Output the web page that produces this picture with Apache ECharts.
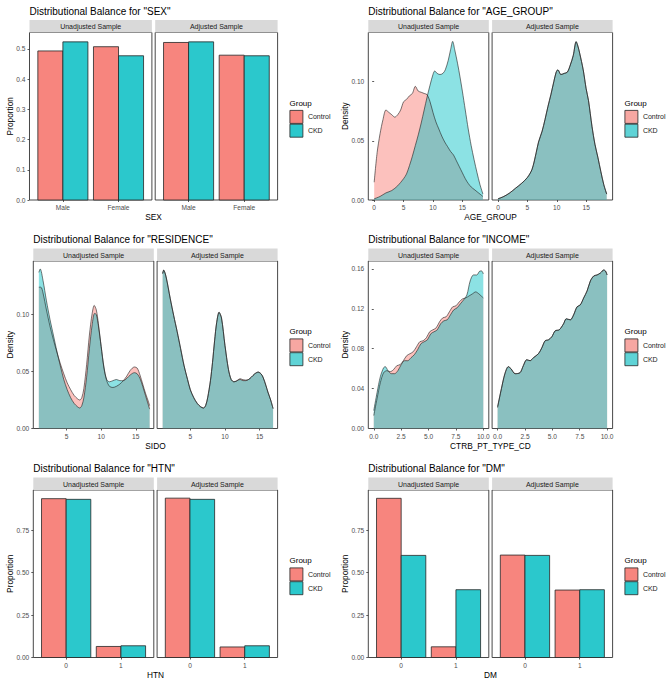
<!DOCTYPE html>
<html>
<head>
<meta charset="utf-8">
<script src="https://cdn.jsdelivr.net/npm/echarts@6/dist/echarts.min.js"></script>
<style>
html,body{margin:0;padding:0;background:#fff;}
#chart{width:669px;height:681px;}
</style>
</head>
<body>
<div id="chart"></div>
<script>
// ---------------- DATA ----------------
const facetNames = ['Unadjusted Sample', 'Adjusted Sample'];
const groupNames = ['Control', 'CKD'];

// SEX (proportions)
const sexCategories = ['Male', 'Female'];
const sexUnadjControl = [0.493, 0.507];
const sexUnadjCKD = [0.523, 0.477];
const sexAdjControl = [0.521, 0.479];
const sexAdjCKD = [0.523, 0.477];
const sexYTicks = [0, 0.1, 0.2, 0.3, 0.4, 0.5];

// HTN (proportions)
const htnCategories = ['0', '1'];
const htnUnadjControl = [0.935, 0.065];
const htnUnadjCKD = [0.931, 0.069];
const htnAdjControl = [0.938, 0.062];
const htnAdjCKD = [0.931, 0.069];

// DM (proportions)
const dmCategories = ['0', '1'];
const dmUnadjControl = [0.937, 0.063];
const dmUnadjCKD = [0.601, 0.399];
const dmAdjControl = [0.603, 0.397];
const dmAdjCKD = [0.601, 0.399];
const binaryYTicks = [0, 0.25, 0.5, 0.75];

// AGE_GROUP densities [x, density]
const ageUnadjControl = [[0,0.015],[0.5,0.040],[1,0.056],[1.5,0.068],[2,0.076],[2.5,0.074],[3,0.072],[3.5,0.070],[4,0.072],[4.5,0.076],[5,0.083],[5.5,0.085],[6,0.088],[6.5,0.090],[7,0.096],[7.5,0.092],[8,0.091],[8.5,0.090],[9,0.089],[9.5,0.083],[10,0.074],[10.5,0.066],[11,0.060],[11.5,0.054],[12,0.049],[12.5,0.045],[13,0.041],[13.5,0.038],[14,0.033],[14.5,0.028],[15,0.023],[15.5,0.018],[16,0.014],[16.5,0.011],[17,0.009],[17.5,0.007],[18,0.005],[18.5,0.003]];
const ageUnadjCKD = [[0,0.001],[1,0.003],[2,0.006],[3,0.008],[4,0.012],[5,0.018],[5.5,0.022],[6,0.029],[6.5,0.037],[7,0.046],[7.5,0.055],[8,0.065],[8.5,0.076],[9,0.087],[9.5,0.097],[10,0.106],[10.3,0.109],[10.7,0.107],[11.2,0.106],[11.7,0.107],[12.1,0.110],[12.6,0.118],[13,0.127],[13.35,0.134],[13.7,0.127],[14.2,0.115],[14.6,0.104],[15,0.092],[15.5,0.076],[16,0.060],[16.5,0.046],[17,0.034],[17.5,0.023],[18,0.013],[18.5,0.005]];
const ageAdjControl = [[0,0.001],[1,0.003],[2,0.006],[3,0.010],[4,0.014],[5,0.019],[5.8,0.026],[6.5,0.040],[6.9,0.049],[7.5,0.058],[8,0.068],[8.5,0.079],[9,0.089],[9.5,0.100],[9.9,0.108],[10.2,0.110],[10.7,0.106],[11.3,0.107],[11.8,0.108],[12.3,0.114],[12.8,0.122],[13.3,0.1335],[13.6,0.130],[13.9,0.124],[14.5,0.110],[15,0.094],[15.4,0.084],[16,0.062],[16.5,0.047],[17,0.036],[17.5,0.024],[18,0.013],[18.5,0.005]];
const ageAdjCKD = [[0,0.001],[1,0.003],[2,0.006],[3,0.010],[4,0.014],[5,0.019],[5.8,0.026],[6.5,0.040],[6.9,0.049],[7.5,0.058],[8,0.068],[8.5,0.079],[9,0.089],[9.5,0.100],[9.9,0.108],[10.2,0.110],[10.7,0.106],[11.3,0.107],[11.8,0.108],[12.3,0.114],[12.8,0.122],[13.3,0.134],[13.6,0.130],[13.9,0.124],[14.5,0.110],[15,0.094],[15.4,0.084],[16,0.062],[16.5,0.047],[17,0.036],[17.5,0.024],[18,0.013],[18.5,0.005]];
const ageXTicks = [0, 5, 10, 15];
const ageYTicks = [0, 0.05, 0.10];

// RESIDENCE (SIDO) densities
const resUnadjControl = [[1,0.124],[1.3,0.124],[1.6,0.119],[2.1,0.104],[2.6,0.090],[3.1,0.078],[3.6,0.067],[4.1,0.057],[4.6,0.048],[5.1,0.040],[5.6,0.034],[6.1,0.029],[6.6,0.026],[6.9,0.025],[7.2,0.027],[7.5,0.035],[7.9,0.056],[8.3,0.082],[8.7,0.101],[9.0,0.108],[9.3,0.104],[9.6,0.092],[10.0,0.072],[10.4,0.053],[10.8,0.042],[11.2,0.037],[11.7,0.036],[12.2,0.037],[12.7,0.039],[13.2,0.042],[13.7,0.046],[14.2,0.051],[14.8,0.054],[15.2,0.053],[15.6,0.047],[16.0,0.039],[16.4,0.031],[16.8,0.024],[17.0,0.020]];
const resUnadjCKD = [[1,0.137],[1.2,0.140],[1.6,0.130],[2.1,0.112],[2.6,0.096],[3.1,0.082],[3.6,0.068],[4.1,0.055],[4.6,0.043],[5.1,0.034],[5.6,0.027],[6.1,0.022],[6.6,0.019],[6.9,0.018],[7.2,0.020],[7.5,0.027],[7.9,0.045],[8.3,0.070],[8.7,0.091],[9.05,0.101],[9.3,0.100],[9.6,0.090],[10.0,0.072],[10.4,0.054],[10.8,0.043],[11.2,0.041],[11.7,0.042],[12.2,0.043],[12.7,0.042],[13.2,0.042],[13.7,0.044],[14.2,0.047],[14.8,0.049],[15.2,0.048],[15.6,0.044],[16.0,0.037],[16.4,0.029],[16.8,0.021],[17.0,0.017]];
const resAdjControl = [[1,0.136],[1.15,0.139],[1.5,0.133],[2.1,0.114],[2.6,0.099],[3.1,0.085],[3.6,0.070],[4.1,0.055],[4.6,0.043],[5.0,0.034],[5.5,0.027],[6.0,0.022],[6.5,0.019],[6.9,0.018],[7.2,0.020],[7.5,0.027],[7.9,0.042],[8.2,0.058],[8.5,0.077],[8.8,0.093],[9.15,0.102],[9.5,0.097],[10.0,0.073],[10.5,0.052],[10.9,0.043],[11.3,0.041],[11.6,0.0415],[12.2,0.0437],[12.6,0.0428],[13.0,0.0425],[13.4,0.043],[13.8,0.045],[14.3,0.048],[14.8,0.0495],[15.2,0.048],[15.5,0.045],[15.9,0.038],[16.2,0.032],[16.6,0.025],[16.95,0.0175]];
const resAdjCKD = [[1,0.136],[1.15,0.139],[1.5,0.133],[2.1,0.114],[2.6,0.099],[3.1,0.085],[3.6,0.070],[4.1,0.055],[4.6,0.043],[5.0,0.034],[5.5,0.027],[6.0,0.022],[6.5,0.019],[6.9,0.018],[7.2,0.020],[7.5,0.027],[7.9,0.042],[8.2,0.058],[8.5,0.077],[8.8,0.093],[9.15,0.102],[9.5,0.097],[10.0,0.073],[10.5,0.052],[10.9,0.043],[11.3,0.041],[11.6,0.0415],[12.2,0.043],[12.6,0.042],[13.0,0.042],[13.4,0.043],[13.8,0.045],[14.3,0.048],[14.8,0.0495],[15.2,0.048],[15.5,0.045],[15.9,0.038],[16.2,0.032],[16.6,0.025],[16.95,0.0175]];
const sidoXTicks = [5, 10, 15];
const sidoYTicks = [0, 0.05, 0.10];

// INCOME (CTRB_PT_TYPE_CD) densities
const incUnadjControl = [[0,0.013],[0.3,0.030],[0.6,0.046],[0.9,0.056],[1.2,0.058],[1.5,0.057],[1.8,0.059],[2.1,0.063],[2.4,0.064],[2.7,0.068],[3.0,0.073],[3.3,0.075],[3.6,0.077],[3.9,0.082],[4.2,0.087],[4.5,0.088],[4.8,0.091],[5.1,0.097],[5.4,0.099],[5.7,0.101],[6.0,0.107],[6.3,0.111],[6.6,0.112],[6.9,0.117],[7.2,0.122],[7.5,0.123],[7.8,0.127],[8.1,0.130],[8.4,0.131],[8.7,0.133],[9.0,0.135],[9.3,0.137],[9.6,0.135],[9.8,0.133],[10.0,0.131]];
const incUnadjCKD = [[0,0.018],[0.3,0.036],[0.6,0.052],[0.9,0.061],[1.05,0.062],[1.3,0.058],[1.6,0.055],[1.9,0.055],[2.2,0.058],[2.5,0.064],[2.8,0.068],[3.1,0.068],[3.4,0.071],[3.7,0.074],[4.0,0.079],[4.3,0.085],[4.6,0.087],[4.9,0.089],[5.2,0.095],[5.5,0.097],[5.8,0.099],[6.1,0.105],[6.4,0.108],[6.7,0.109],[7.0,0.114],[7.3,0.119],[7.6,0.121],[7.9,0.125],[8.2,0.129],[8.5,0.134],[8.8,0.148],[9.1,0.154],[9.4,0.154],[9.7,0.158],[9.85,0.158],[10.0,0.155]];
const incAdjControl = [[0,0.021],[0.35,0.040],[0.67,0.055],[0.98,0.062],[1.22,0.060],[1.6,0.055],[2.05,0.056],[2.35,0.063],[2.66,0.069],[2.97,0.068],[3.27,0.071],[3.73,0.075],[4.04,0.081],[4.34,0.088],[4.65,0.089],[4.95,0.092],[5.26,0.098],[5.63,0.099],[6.02,0.105],[6.27,0.110],[6.64,0.109],[6.94,0.114],[7.25,0.122],[7.55,0.124],[7.86,0.131],[8.17,0.138],[8.47,0.148],[8.78,0.153],[9.08,0.154],[9.39,0.156],[9.69,0.159],[9.85,0.158],[10.0,0.154]];
const incAdjCKD = [[0,0.022],[0.35,0.040],[0.67,0.055],[0.98,0.062],[1.22,0.060],[1.6,0.055],[2.05,0.056],[2.35,0.063],[2.66,0.069],[2.97,0.068],[3.27,0.071],[3.73,0.075],[4.04,0.081],[4.34,0.088],[4.65,0.089],[4.95,0.092],[5.26,0.098],[5.63,0.099],[6.02,0.105],[6.27,0.110],[6.64,0.109],[6.94,0.114],[7.25,0.122],[7.55,0.124],[7.86,0.131],[8.17,0.138],[8.47,0.148],[8.78,0.153],[9.08,0.154],[9.39,0.156],[9.69,0.159],[9.85,0.158],[10.0,0.154]];
const incomeXTicks = [0, 2.5, 5, 7.5, 10];
const incomeYTicks = [0, 0.04, 0.08, 0.12, 0.16];

// ---------------- STYLE / LAYOUT ----------------
const FONT = '"Liberation Sans", Arial, Helvetica, sans-serif';
const COLORS = {
  barControl: '#F7857E', barCKD: '#2BC8CC',
  densControl: '#F8766D', densCKD: '#00BFC4',
  keyDensControl: '#F7A7A2', keyDensCKD: '#5FD3D6',
  outline: '#262626', border: '#333333', strip: '#D9D9D9',
  tick: '#4D4D4D', text: '#1A1A1A'
};
const ROW_TOPS = [20, 248.5, 477.5];
const STRIP_H = 12.5;
const PLOT_H = 167.5;
const FACET_GAP = 3.3;
const DODGE = 0.45;
const DENS_ALPHA = 0.45;

const panels = [
  { title: 'Distributional Balance for "SEX"', kind: 'bar', cats: sexCategories,
    data: [[sexUnadjControl, sexUnadjCKD], [sexAdjControl, sexAdjCKD]],
    yMax: 0.554, yTicks: sexYTicks, yDigits: 1, xTitle: 'SEX', yTitle: 'Proportion',
    row: 0, left: 29.5, width: 122.4, legendX: 289.5, yTitleX: 10 },
  { title: 'Distributional Balance for "AGE_GROUP"', kind: 'density',
    data: [[ageUnadjControl, ageUnadjCKD], [ageAdjControl, ageAdjCKD]],
    xMin: -1, xMax: 19.5, xTicks: ageXTicks, xDigits: 0,
    yMax: 0.1415, yTicks: ageYTicks, yDigits: 2, xTitle: 'AGE_GROUP', yTitle: 'Density',
    row: 0, left: 368.3, width: 120.5, legendX: 624.5, yTitleX: 345 },
  { title: 'Distributional Balance for "RESIDENCE"', kind: 'density',
    data: [[resUnadjControl, resUnadjCKD], [resAdjControl, resAdjCKD]],
    xMin: 0.2, xMax: 17.6, xTicks: sidoXTicks, xDigits: 0,
    yMax: 0.147, yTicks: sidoYTicks, yDigits: 2, xTitle: 'SIDO', yTitle: 'Density',
    row: 1, left: 33.3, width: 120.5, legendX: 289.5, yTitleX: 10 },
  { title: 'Distributional Balance for "INCOME"', kind: 'density',
    data: [[incUnadjControl, incUnadjCKD], [incAdjControl, incAdjCKD]],
    xMin: -0.5, xMax: 10.5, xTicks: incomeXTicks, xDigits: 1,
    yMax: 0.168, yTicks: incomeYTicks, yDigits: 2, xTitle: 'CTRB_PT_TYPE_CD', yTitle: 'Density',
    row: 1, left: 368.3, width: 120.5, legendX: 624.5, yTitleX: 345 },
  { title: 'Distributional Balance for "HTN"', kind: 'bar', cats: htnCategories,
    data: [[htnUnadjControl, htnUnadjCKD], [htnAdjControl, htnAdjCKD]],
    yMax: 0.986, yTicks: binaryYTicks, yDigits: 2, xTitle: 'HTN', yTitle: 'Proportion',
    row: 2, left: 33.3, width: 120.5, legendX: 289.5, yTitleX: 10 },
  { title: 'Distributional Balance for "DM"', kind: 'bar', cats: dmCategories,
    data: [[dmUnadjControl, dmUnadjCKD], [dmAdjControl, dmAdjCKD]],
    yMax: 0.986, yTicks: binaryYTicks, yDigits: 2, xTitle: 'DM', yTitle: 'Proportion',
    row: 2, left: 368.3, width: 120.5, legendX: 624.5, yTitleX: 345 }
];

// ---------------- BUILD ----------------
function txt(text, x, y, size, color, align, rotation) {
  return {
    type: 'text', x: x, y: y, rotation: rotation || 0, silent: true, z: 10,
    style: {
      text: text, font: size + 'px ' + FONT, fill: color,
      align: align, textAlign: align, verticalAlign: 'middle', textVerticalAlign: 'middle'
    }
  };
}

function barRenderer(side, fill) {
  return function (params, api) {
    const x = api.value(0), y = api.value(1);
    const x0 = side < 0 ? x - DODGE : x;
    const p0 = api.coord([x0, y]);
    const p1 = api.coord([x0 + DODGE, 0]);
    return {
      type: 'rect',
      shape: { x: p0[0], y: p0[1], width: p1[0] - p0[0], height: p1[1] - p0[1] },
      style: { fill: fill, stroke: COLORS.outline, lineWidth: 0.8 }
    };
  };
}

const option = {
  animation: false,
  backgroundColor: '#ffffff',
  grid: [], xAxis: [], yAxis: [], series: [], legend: [],
  graphic: { elements: [] }
};
const G = option.graphic.elements;

panels.forEach(function (p) {
  const stripTop = ROW_TOPS[p.row];
  const plotTop = stripTop + STRIP_H;
  const plotBottom = plotTop + PLOT_H;
  const totalRight = p.left + 2 * p.width + FACET_GAP;

  G.push(txt(p.title, p.left, stripTop - 9, 10, '#000000', 'left'));
  G.push(txt(p.yTitle, p.yTitleX, plotTop + PLOT_H / 2, 8.3, '#000000', 'center', Math.PI / 2));
  G.push(txt(p.xTitle, (p.left + totalRight) / 2, plotBottom + 17, 8.3, '#000000', 'center'));
  G.push(txt('Group', p.legendX, plotTop + 70.5, 8, '#000000', 'left'));

  const isBar = p.kind === 'bar';
  option.legend.push({
    orient: 'vertical', left: p.legendX, top: plotTop + 77.5, padding: 0,
    itemWidth: 13, itemHeight: 13, itemGap: 0, icon: 'rect', selectedMode: false,
    textStyle: { fontSize: 7, color: '#1A1A1A', fontFamily: FONT },
    data: groupNames.map(function (g, i) {
      const c = isBar ? (i === 0 ? COLORS.barControl : COLORS.barCKD)
                      : (i === 0 ? COLORS.keyDensControl : COLORS.keyDensCKD);
      return { name: g, icon: 'rect',
        textStyle: { color: '#1A1A1A', fontSize: 7, fontFamily: FONT },
        itemStyle: { color: c, borderColor: COLORS.outline, borderWidth: 0.8 } };
    })
  });

  for (let f = 0; f < 2; f++) {
    const gx = p.left + f * (p.width + FACET_GAP);
    const gi = option.grid.length;
    option.grid.push({
      left: gx, top: plotTop, width: p.width, height: PLOT_H,
      show: true, borderColor: COLORS.border, borderWidth: 0.9, backgroundColor: '#ffffff'
    });
    G.push({ type: 'rect', silent: true, z: 5,
      shape: { x: gx, y: stripTop, width: p.width, height: STRIP_H },
      style: { fill: COLORS.strip } });
    G.push(txt(facetNames[f], gx + p.width / 2, stripTop + STRIP_H / 2 + 0.3, 7, COLORS.text, 'center'));

    const xTicks = isBar ? p.cats.map(function (c, i) { return i + 1; }) : p.xTicks;
    option.xAxis.push({
      gridIndex: gi, type: 'value',
      min: isBar ? 0.4 : p.xMin, max: isBar ? p.cats.length + 0.6 : p.xMax,
      axisLine: { show: false }, splitLine: { show: false },
      axisTick: { show: true, customValues: xTicks, length: 2, lineStyle: { color: COLORS.border, width: 0.8 } },
      axisLabel: {
        customValues: xTicks, margin: 4, fontSize: 6.6, color: COLORS.tick, fontFamily: FONT,
        formatter: isBar ? (function (cats) { return function (v) { return cats[Math.round(v) - 1]; }; })(p.cats)
                         : (function (d) { return function (v) { return v.toFixed(d); }; })(p.xDigits)
      }
    });
    option.yAxis.push({
      gridIndex: gi, type: 'value', min: 0, max: p.yMax,
      axisLine: { show: false }, splitLine: { show: false },
      axisTick: { show: f === 0, customValues: p.yTicks, length: 2, lineStyle: { color: COLORS.border, width: 0.8 } },
      axisLabel: {
        show: f === 0, customValues: p.yTicks, margin: 4, fontSize: 6.6, color: COLORS.tick, fontFamily: FONT,
        formatter: (function (d) { return function (v) { return v.toFixed(d); }; })(p.yDigits)
      }
    });

    if (isBar) {
      const vals = p.data[f];
      [0, 1].forEach(function (g) {
        const fill = g === 0 ? COLORS.barControl : COLORS.barCKD;
        option.series.push({
          type: 'custom', name: groupNames[g], xAxisIndex: gi, yAxisIndex: gi, silent: true,
          itemStyle: { color: fill },
          data: vals[g].map(function (v, i) { return [i + 1, v]; }),
          renderItem: barRenderer(g === 0 ? -1 : 1, fill)
        });
      });
    } else {
      const curves = p.data[f];
      [0, 1].forEach(function (g) {
        const fill = g === 0 ? COLORS.densControl : COLORS.densCKD;
        option.series.push({
          type: 'line', name: groupNames[g], xAxisIndex: gi, yAxisIndex: gi, silent: true,
          data: curves[g], showSymbol: false, symbol: 'none', smooth: 0.3,
          itemStyle: { color: fill },
          lineStyle: { color: '#1F1F1F', width: 0.6 },
          areaStyle: { color: fill, opacity: DENS_ALPHA, origin: 'start' }
        });
      });
    }
  }
});

const chart = echarts.init(document.getElementById('chart'), null, { renderer: 'svg' });
chart.setOption(option);
</script>
</body>
</html>
